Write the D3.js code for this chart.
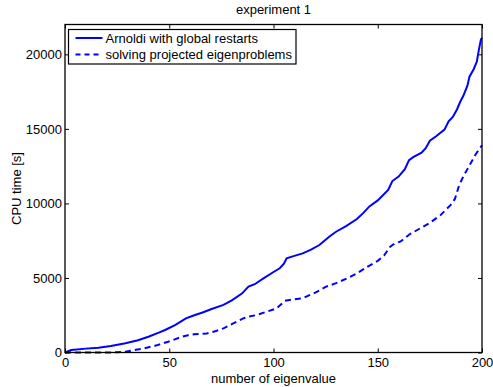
<!DOCTYPE html>
<html>
<head>
<meta charset="utf-8">
<script src="https://cdn.jsdelivr.net/npm/d3@7"></script>
<style>
  body { margin: 0; background: #fff; }
  text { font-family: "Liberation Sans", Arial, sans-serif; fill: #000; }
</style>
</head>
<body>
<svg id="chart" width="493" height="387"></svg>
<script>
// eigenvalue index and CPU times
const solidX = [0, 3, 10, 16, 22, 29, 35, 40, 45, 48, 53, 58, 62, 66, 70, 76, 80, 85, 86.5, 88, 91, 95, 100,
  103, 105, 106.3, 110, 114, 118, 122, 124, 127, 130, 135, 140, 143, 146, 150, 155, 157, 160, 163, 165, 167,
  171, 173, 175, 178, 182, 184, 186, 188, 189.5, 191, 193, 194, 196, 197.5, 198.5, 199.5, 200];
const solidY = [0, 170, 260, 320, 440, 615, 820, 1060, 1330, 1510, 1850, 2290, 2500, 2680, 2900, 3190, 3500,
  3970, 4200, 4420, 4580, 4950, 5400, 5650, 5950, 6320, 6480, 6650, 6900, 7210, 7450, 7800, 8100, 8500,
  8950, 9350, 9800, 10200, 10900, 11500, 11800, 12300, 12900, 13100, 13400, 13700, 14200, 14500, 14950,
  15500, 15800, 16300, 16800, 17200, 17900, 18500, 19000, 19500, 20300, 21000, 21100];

const dashX = [0, 10, 20, 25, 29, 34, 38, 44, 49.5, 53, 56, 59, 62, 68, 72, 76, 80, 85.5, 88, 92, 96, 101.5,
  103, 105.5, 110, 114, 121, 125, 130, 135, 140, 145, 150, 153, 156, 158, 161, 165, 170, 175, 180, 185,
  187, 189, 191, 193, 195, 197, 199, 200];
const dashY = [0, 0, 0, 20, 55, 180, 280, 480, 725, 900, 1060, 1150, 1220, 1280, 1420, 1620, 1900, 2290,
  2400, 2515, 2700, 2964, 3150, 3475, 3570, 3635, 4080, 4400, 4650, 4950, 5300, 5750, 6150, 6500, 7100,
  7300, 7450, 7900, 8300, 8700, 9200, 9900, 10300, 11200, 11800, 12300, 12800, 13300, 13700, 13900];

const seriesNames = ['Arnoldi with global restarts', 'solving projected eigenproblems'];
const xTicks = [0, 50, 100, 150, 200];
const yTicks = [0, 5000, 10000, 15000, 20000];

const margin = { left: 65, right: 11, top: 24.5, bottom: 34.5 };
const W = 493, H = 387;
const fs = 13;
const svg = d3.select('#chart');
const x = d3.scaleLinear().domain([0, 200]).range([margin.left, W - margin.right]);
const y = d3.scaleLinear().domain([0, 22000]).range([H - margin.bottom, margin.top]);
const blue = '#0000ff';

// axes box with inward ticks on all sides
const tick = 4;
svg.append('g').attr('transform', `translate(0,${y(0)})`)
  .call(d3.axisBottom(x).tickValues(xTicks).tickFormat(d3.format('d'))
    .tickSizeInner(-tick).tickSizeOuter(0).tickPadding(5))
  .call(g => g.select('.domain').remove())
  .selectAll('text').attr('font-size', fs);
svg.append('g').attr('transform', `translate(0,${y(22000)})`)
  .call(d3.axisTop(x).tickValues(xTicks).tickSizeInner(-tick).tickSizeOuter(0).tickFormat(''))
  .call(g => g.select('.domain').remove());
svg.append('g').attr('transform', `translate(${x(0)},0)`)
  .call(d3.axisLeft(y).tickValues(yTicks).tickFormat(d3.format('d'))
    .tickSizeInner(-tick).tickSizeOuter(0).tickPadding(3))
  .call(g => g.select('.domain').remove())
  .selectAll('text').attr('font-size', fs);
svg.append('g').attr('transform', `translate(${x(200)},0)`)
  .call(d3.axisRight(y).tickValues(yTicks).tickSizeInner(-tick).tickSizeOuter(0).tickFormat(''))
  .call(g => g.select('.domain').remove());
svg.selectAll('.tick line').attr('stroke', '#000');
svg.selectAll('.tick text').attr('fill', '#000');

const line = d3.line().x(d => x(d[0])).y(d => y(d[1]));
svg.append('path')
  .datum(solidX.map((v, i) => [v, solidY[i]]))
  .attr('d', line).attr('fill', 'none').attr('stroke', blue).attr('stroke-width', 2);
svg.append('path')
  .datum(dashX.map((v, i) => [v, dashY[i]]))
  .attr('d', line).attr('fill', 'none').attr('stroke', blue).attr('stroke-width', 2)
  .attr('stroke-dasharray', '6,4');

svg.append('rect')
  .attr('x', x(0)).attr('y', y(22000))
  .attr('width', x(200) - x(0)).attr('height', y(0) - y(22000))
  .attr('fill', 'none').attr('stroke', '#000').attr('stroke-width', 1.3);

// legend
const lg = svg.append('g').attr('transform', 'translate(68.5,29.5)');
lg.append('rect').attr('width', 227.5).attr('height', 34.5)
  .attr('fill', '#fff').attr('stroke', '#000').attr('stroke-width', 1.2);
seriesNames.forEach((name, i) => {
  const cy = 8.5 + i * 16.5;
  lg.append('line').attr('x1', 7).attr('x2', 34).attr('y1', cy).attr('y2', cy)
    .attr('stroke', blue).attr('stroke-width', 2)
    .attr('stroke-dasharray', i === 1 ? '5,4' : null);
  lg.append('text').attr('x', 37).attr('y', cy + 4.6).attr('font-size', fs).text(name);
});

svg.append('text').attr('x', (x(0) + x(200)) / 2).attr('y', 14)
  .attr('text-anchor', 'middle').attr('font-size', fs).text('experiment 1');
svg.append('text').attr('x', (x(0) + x(200)) / 2).attr('y', 383)
  .attr('text-anchor', 'middle').attr('font-size', fs).text('number of eigenvalue');
svg.append('text').attr('transform', `translate(20.5,${(y(0) + y(22000)) / 2}) rotate(-90)`)
  .attr('text-anchor', 'middle').attr('font-size', fs).text('CPU time [s]');
</script>
</body>
</html>
